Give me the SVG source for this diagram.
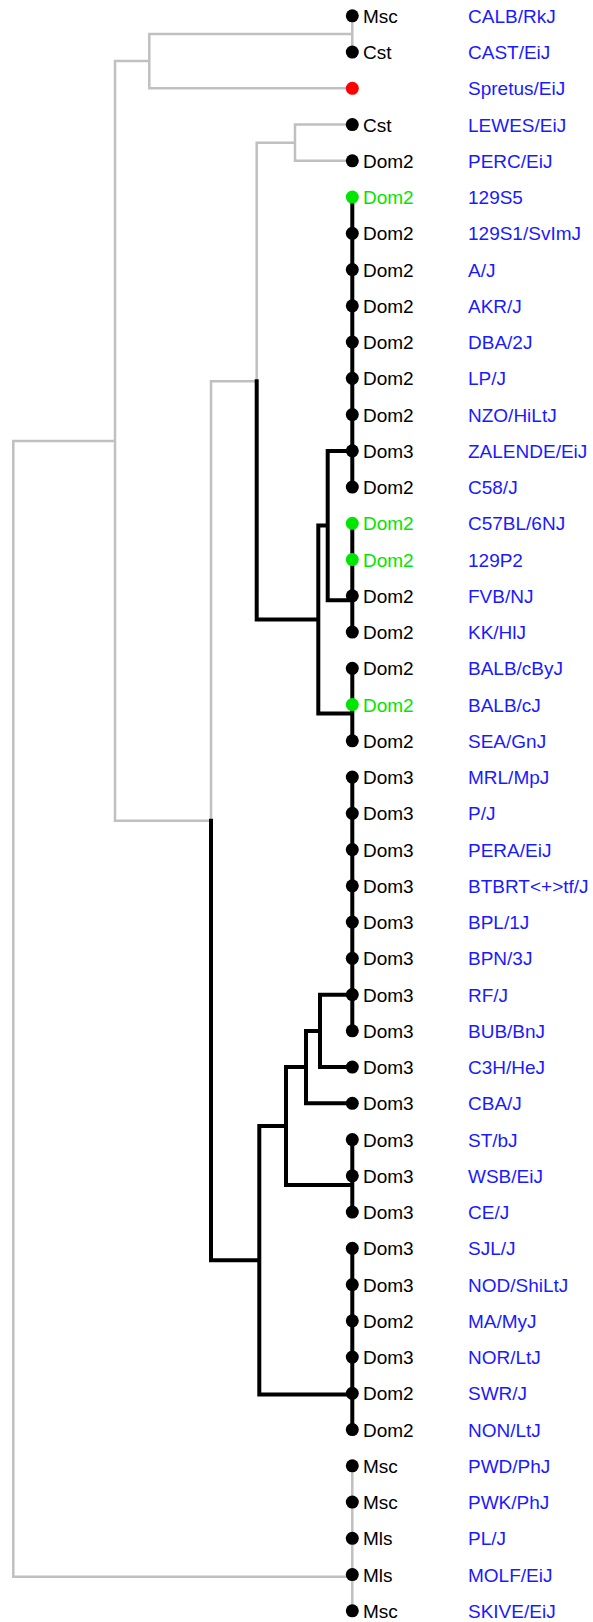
<svg xmlns="http://www.w3.org/2000/svg" width="593" height="1622" viewBox="0 0 593 1622">
<style>
.g{fill:none;stroke:#c0c0c0;stroke-width:2.5;stroke-linecap:square}
.k{fill:none;stroke:#000;stroke-width:4;stroke-linecap:square}
text{font-family:"Liberation Sans",Arial,sans-serif;font-size:19px}
.t{fill:#000}
.tg{fill:#00e600}
.s{fill:#1a1aff}
.d{fill:#000}
.dg{fill:#00e600}
.dr{fill:#ff0000}
</style>
<rect width="593" height="1622" fill="#fff"/>
<g id="connectors">
<path class="g" d="M13.3,440.9V1576.8M13.3,440.9H115M13.3,1576.8H352.3M352.3,1465.8V1610.8M115,61.1V820.7M115,61.1H149.3M149.3,33.9V88.3M149.3,33.9H352.3M149.3,88.3H352.3M352.3,15.8V52.05M115,820.7H211M211,381.2V820.7M211,381.2H256.7M256.7,142.7V381.2M256.7,142.7H295M295,124.55V160.8M295,124.55H352.3M295,160.8H352.3"/>
<path class="k" d="M256.7,381.2V619.6M256.7,619.6H318.3M318.3,525.6V713.6M318.3,525.6H327.7M327.7,450.9V600.3M327.7,450.9H352.3M327.7,600.3H352.3M318.3,713.6H352.3M352.3,197.05V487.05M352.3,523.3V632.05M352.3,668.3V740.8M211,820.7V1260.2M211,1260.2H259.3M259.3,1126V1394.4M259.3,1394.4H352.3M259.3,1126H286M286,1067.1V1184.9M286,1184.9H352.3M286,1067.1H306M306,1030.9V1103.3M306,1103.3H352.3M306,1030.9H320M320,994.8V1067.05M320,994.8H352.3M320,1067.05H352.3M352.3,777.05V1030.8M352.3,1139.55V1212.05M352.3,1248.3V1429.55"/>
</g>
<g id="n0"><circle class="d" cx="352.3" cy="15.8" r="6.5"/><text class="t" x="363" y="22.8">Msc</text><text class="s" x="468" y="22.8">CALB/RkJ</text></g>
<g id="n1"><circle class="d" cx="352.3" cy="52.05" r="6.5"/><text class="t" x="363" y="59.05">Cst</text><text class="s" x="468" y="59.05">CAST/EiJ</text></g>
<g id="n2"><circle class="dr" cx="352.3" cy="88.3" r="6.5"/><text class="s" x="468" y="95.3">Spretus/EiJ</text></g>
<g id="n3"><circle class="d" cx="352.3" cy="124.55" r="6.5"/><text class="t" x="363" y="131.55">Cst</text><text class="s" x="468" y="131.55">LEWES/EiJ</text></g>
<g id="n4"><circle class="d" cx="352.3" cy="160.8" r="6.5"/><text class="t" x="363" y="167.8">Dom2</text><text class="s" x="468" y="167.8">PERC/EiJ</text></g>
<g id="n5"><circle class="dg" cx="352.3" cy="197.05" r="6.5"/><text class="tg" x="363" y="204.05">Dom2</text><text class="s" x="468" y="204.05">129S5</text></g>
<g id="n6"><circle class="d" cx="352.3" cy="233.3" r="6.5"/><text class="t" x="363" y="240.3">Dom2</text><text class="s" x="468" y="240.3">129S1/SvImJ</text></g>
<g id="n7"><circle class="d" cx="352.3" cy="269.55" r="6.5"/><text class="t" x="363" y="276.55">Dom2</text><text class="s" x="468" y="276.55">A/J</text></g>
<g id="n8"><circle class="d" cx="352.3" cy="305.8" r="6.5"/><text class="t" x="363" y="312.8">Dom2</text><text class="s" x="468" y="312.8">AKR/J</text></g>
<g id="n9"><circle class="d" cx="352.3" cy="342.05" r="6.5"/><text class="t" x="363" y="349.05">Dom2</text><text class="s" x="468" y="349.05">DBA/2J</text></g>
<g id="n10"><circle class="d" cx="352.3" cy="378.3" r="6.5"/><text class="t" x="363" y="385.3">Dom2</text><text class="s" x="468" y="385.3">LP/J</text></g>
<g id="n11"><circle class="d" cx="352.3" cy="414.55" r="6.5"/><text class="t" x="363" y="421.55">Dom2</text><text class="s" x="468" y="421.55">NZO/HiLtJ</text></g>
<g id="n12"><circle class="d" cx="352.3" cy="450.8" r="6.5"/><text class="t" x="363" y="457.8">Dom3</text><text class="s" x="468" y="457.8">ZALENDE/EiJ</text></g>
<g id="n13"><circle class="d" cx="352.3" cy="487.05" r="6.5"/><text class="t" x="363" y="494.05">Dom2</text><text class="s" x="468" y="494.05">C58/J</text></g>
<g id="n14"><circle class="dg" cx="352.3" cy="523.3" r="6.5"/><text class="tg" x="363" y="530.3">Dom2</text><text class="s" x="468" y="530.3">C57BL/6NJ</text></g>
<g id="n15"><circle class="dg" cx="352.3" cy="559.55" r="6.5"/><text class="tg" x="363" y="566.55">Dom2</text><text class="s" x="468" y="566.55">129P2</text></g>
<g id="n16"><circle class="d" cx="352.3" cy="595.8" r="6.5"/><text class="t" x="363" y="602.8">Dom2</text><text class="s" x="468" y="602.8">FVB/NJ</text></g>
<g id="n17"><circle class="d" cx="352.3" cy="632.05" r="6.5"/><text class="t" x="363" y="639.05">Dom2</text><text class="s" x="468" y="639.05">KK/HlJ</text></g>
<g id="n18"><circle class="d" cx="352.3" cy="668.3" r="6.5"/><text class="t" x="363" y="675.3">Dom2</text><text class="s" x="468" y="675.3">BALB/cByJ</text></g>
<g id="n19"><circle class="dg" cx="352.3" cy="704.55" r="6.5"/><text class="tg" x="363" y="711.55">Dom2</text><text class="s" x="468" y="711.55">BALB/cJ</text></g>
<g id="n20"><circle class="d" cx="352.3" cy="740.8" r="6.5"/><text class="t" x="363" y="747.8">Dom2</text><text class="s" x="468" y="747.8">SEA/GnJ</text></g>
<g id="n21"><circle class="d" cx="352.3" cy="777.05" r="6.5"/><text class="t" x="363" y="784.05">Dom3</text><text class="s" x="468" y="784.05">MRL/MpJ</text></g>
<g id="n22"><circle class="d" cx="352.3" cy="813.3" r="6.5"/><text class="t" x="363" y="820.3">Dom3</text><text class="s" x="468" y="820.3">P/J</text></g>
<g id="n23"><circle class="d" cx="352.3" cy="849.55" r="6.5"/><text class="t" x="363" y="856.55">Dom3</text><text class="s" x="468" y="856.55">PERA/EiJ</text></g>
<g id="n24"><circle class="d" cx="352.3" cy="885.8" r="6.5"/><text class="t" x="363" y="892.8">Dom3</text><text class="s" x="468" y="892.8">BTBRT&lt;+&gt;tf/J</text></g>
<g id="n25"><circle class="d" cx="352.3" cy="922.05" r="6.5"/><text class="t" x="363" y="929.05">Dom3</text><text class="s" x="468" y="929.05">BPL/1J</text></g>
<g id="n26"><circle class="d" cx="352.3" cy="958.3" r="6.5"/><text class="t" x="363" y="965.3">Dom3</text><text class="s" x="468" y="965.3">BPN/3J</text></g>
<g id="n27"><circle class="d" cx="352.3" cy="994.55" r="6.5"/><text class="t" x="363" y="1001.55">Dom3</text><text class="s" x="468" y="1001.55">RF/J</text></g>
<g id="n28"><circle class="d" cx="352.3" cy="1030.8" r="6.5"/><text class="t" x="363" y="1037.8">Dom3</text><text class="s" x="468" y="1037.8">BUB/BnJ</text></g>
<g id="n29"><circle class="d" cx="352.3" cy="1067.05" r="6.5"/><text class="t" x="363" y="1074.05">Dom3</text><text class="s" x="468" y="1074.05">C3H/HeJ</text></g>
<g id="n30"><circle class="d" cx="352.3" cy="1103.3" r="6.5"/><text class="t" x="363" y="1110.3">Dom3</text><text class="s" x="468" y="1110.3">CBA/J</text></g>
<g id="n31"><circle class="d" cx="352.3" cy="1139.55" r="6.5"/><text class="t" x="363" y="1146.55">Dom3</text><text class="s" x="468" y="1146.55">ST/bJ</text></g>
<g id="n32"><circle class="d" cx="352.3" cy="1175.8" r="6.5"/><text class="t" x="363" y="1182.8">Dom3</text><text class="s" x="468" y="1182.8">WSB/EiJ</text></g>
<g id="n33"><circle class="d" cx="352.3" cy="1212.05" r="6.5"/><text class="t" x="363" y="1219.05">Dom3</text><text class="s" x="468" y="1219.05">CE/J</text></g>
<g id="n34"><circle class="d" cx="352.3" cy="1248.3" r="6.5"/><text class="t" x="363" y="1255.3">Dom3</text><text class="s" x="468" y="1255.3">SJL/J</text></g>
<g id="n35"><circle class="d" cx="352.3" cy="1284.55" r="6.5"/><text class="t" x="363" y="1291.55">Dom3</text><text class="s" x="468" y="1291.55">NOD/ShiLtJ</text></g>
<g id="n36"><circle class="d" cx="352.3" cy="1320.8" r="6.5"/><text class="t" x="363" y="1327.8">Dom2</text><text class="s" x="468" y="1327.8">MA/MyJ</text></g>
<g id="n37"><circle class="d" cx="352.3" cy="1357.05" r="6.5"/><text class="t" x="363" y="1364.05">Dom3</text><text class="s" x="468" y="1364.05">NOR/LtJ</text></g>
<g id="n38"><circle class="d" cx="352.3" cy="1393.3" r="6.5"/><text class="t" x="363" y="1400.3">Dom2</text><text class="s" x="468" y="1400.3">SWR/J</text></g>
<g id="n39"><circle class="d" cx="352.3" cy="1429.55" r="6.5"/><text class="t" x="363" y="1436.55">Dom2</text><text class="s" x="468" y="1436.55">NON/LtJ</text></g>
<g id="n40"><circle class="d" cx="352.3" cy="1465.8" r="6.5"/><text class="t" x="363" y="1472.8">Msc</text><text class="s" x="468" y="1472.8">PWD/PhJ</text></g>
<g id="n41"><circle class="d" cx="352.3" cy="1502.05" r="6.5"/><text class="t" x="363" y="1509.05">Msc</text><text class="s" x="468" y="1509.05">PWK/PhJ</text></g>
<g id="n42"><circle class="d" cx="352.3" cy="1538.3" r="6.5"/><text class="t" x="363" y="1545.3">Mls</text><text class="s" x="468" y="1545.3">PL/J</text></g>
<g id="n43"><circle class="d" cx="352.3" cy="1574.55" r="6.5"/><text class="t" x="363" y="1581.55">Mls</text><text class="s" x="468" y="1581.55">MOLF/EiJ</text></g>
<g id="n44"><circle class="d" cx="352.3" cy="1610.8" r="6.5"/><text class="t" x="363" y="1617.8">Msc</text><text class="s" x="468" y="1617.8">SKIVE/EiJ</text></g>
</svg>
